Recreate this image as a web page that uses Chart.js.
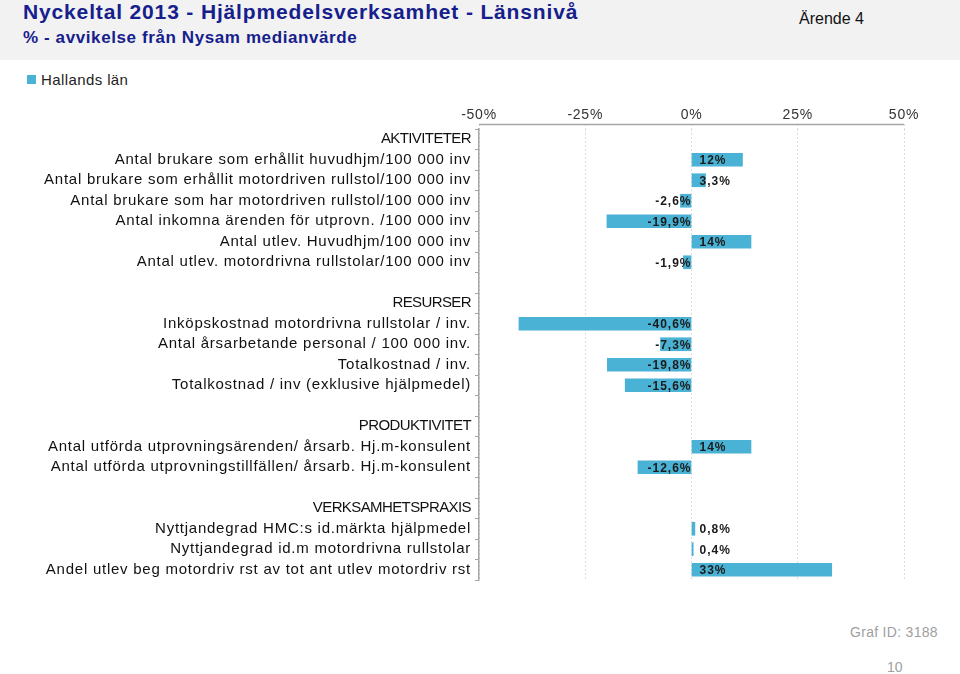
<!DOCTYPE html>
<html>
<head>
<meta charset="utf-8">
<script src="https://cdn.jsdelivr.net/npm/chart.js@4/dist/chart.umd.min.js"></script>
<style>
  body { margin: 0; width: 960px; height: 674px; position: relative; overflow: hidden; background: #fff;
         font-family: "Liberation Sans", Arial, sans-serif; }
  #band { position: absolute; left: 0; top: 0; width: 960px; height: 60px; background: #f2f2f2; }
  .txt { position: absolute; white-space: nowrap; }
  #title { left: 23px; top: 0px; font-size: 21px; font-weight: bold; color: #16208c; letter-spacing: 0.85px; }
  #sub { left: 23px; top: 28px; font-size: 17px; font-weight: bold; color: #16208c; letter-spacing: 0.6px; }
  #arende { left: 799px; top: 10px; font-size: 16px; color: #111; }
  #legbox { position: absolute; left: 27px; top: 75px; width: 9px; height: 9px; background: #4ab2d4; }
  #leg { left: 41px; top: 71px; font-size: 15px; color: #222; letter-spacing: 0.4px; }
  #graf { left: 850px; top: 624px; font-size: 14px; color: #a0a0a0; letter-spacing: 0.3px; }
  #page { left: 887px; top: 659px; font-size: 14px; color: #a0a0a0; }
  canvas { position: absolute; left: 0; top: 0; }
</style>
</head>
<body>
<div id="band"></div>
<div class="txt" id="title">Nyckeltal 2013 - Hjälpmedelsverksamhet - Länsnivå</div>
<div class="txt" id="sub">% - avvikelse från Nysam medianvärde</div>
<div class="txt" id="arende">Ärende 4</div>
<div id="legbox"></div>
<div class="txt" id="leg">Hallands län</div>
<div class="txt" id="graf">Graf ID: 3188</div>
<div class="txt" id="page">10</div>
<canvas id="chart" width="960" height="674"></canvas>
<script>
// kategorier (tomma rader skiljer avsnitten åt)
const kategorier = [
  "AKTIVITETER",
  "Antal brukare som erhållit huvudhjm/100 000 inv",
  "Antal brukare som erhållit motordriven rullstol/100 000 inv",
  "Antal brukare som har motordriven rullstol/100 000 inv",
  "Antal inkomna ärenden för utprovn. /100 000 inv",
  "Antal utlev. Huvudhjm/100 000 inv",
  "Antal utlev. motordrivna rullstolar/100 000 inv",
  "",
  "RESURSER",
  "Inköpskostnad motordrivna rullstolar / inv.",
  "Antal årsarbetande personal / 100 000 inv.",
  "Totalkostnad / inv.",
  "Totalkostnad / inv (exklusive hjälpmedel)",
  "",
  "PRODUKTIVITET",
  "Antal utförda utprovningsärenden/ årsarb. Hj.m-konsulent",
  "Antal utförda utprovningstillfällen/ årsarb. Hj.m-konsulent",
  "",
  "VERKSAMHETSPRAXIS",
  "Nyttjandegrad HMC:s id.märkta hjälpmedel",
  "Nyttjandegrad id.m motordrivna rullstolar",
  "Andel utlev beg motordriv rst av tot ant utlev motordriv rst"
];
const rubriker = ["AKTIVITETER", "RESURSER", "PRODUKTIVITET", "VERKSAMHETSPRAXIS"];

// Hallands län, % avvikelse
const hallandsLan = [
  null, 12, 3.3, -2.6, -19.9, 14, -1.9,
  null, null, -40.6, -7.3, -19.8, -15.6,
  null, null, 14, -12.6,
  null, null, 0.8, 0.4, 33
];
const etiketter = [
  "", "12%", "3,3%", "-2,6%", "-19,9%", "14%", "-1,9%",
  "", "", "-40,6%", "-7,3%", "-19,8%", "-15,6%",
  "", "", "14%", "-12,6%",
  "", "", "0,8%", "0,4%", "33%"
];

const xTicks = [-50, -25, 0, 25, 50];

const fargBar = "#4ab2d4";
const fargAxel = "#a6a6a6";
const typsnitt = "'Liberation Sans', Arial, sans-serif";

const stapelEtiketter = {
  id: "stapelEtiketter",
  beforeDraw(chart) {
    chart.ctx.letterSpacing = "0.75px";
  },
  afterDatasetsDraw(chart) {
    // etiketter på staplarna, förankrade vid nollan
    const ctx = chart.ctx;
    const x0 = chart.scales.x.getPixelForValue(0);
    const meta = chart.getDatasetMeta(0);
    ctx.save();
    ctx.font = "bold 12px " + typsnitt;
    ctx.letterSpacing = "1px";
    ctx.fillStyle = "#1a1a1a";
    ctx.textBaseline = "middle";
    meta.data.forEach((bar, i) => {
      const v = hallandsLan[i];
      if (v === null) return;
      if (v >= 0) {
        ctx.textAlign = "left";
        ctx.fillText(etiketter[i], x0 + 8, bar.y + 1);
      } else {
        ctx.textAlign = "right";
        ctx.fillText(etiketter[i], x0, bar.y + 1);
      }
    });
    ctx.restore();
  },
  afterDraw(chart) {
    const ctx = chart.ctx;
    const a = chart.chartArea;
    const y = chart.scales.y;
    ctx.save();
    // axellinjen överst
    ctx.strokeStyle = fargAxel;
    ctx.lineWidth = 1.5;
    ctx.beginPath();
    ctx.moveTo(a.left, 124.5);
    ctx.lineTo(a.right, 124.5);
    ctx.stroke();
    // avsnittsrubriker, tätare spärrning
    ctx.font = "15px " + typsnitt;
    ctx.letterSpacing = "-0.6px";
    ctx.fillStyle = "#111";
    ctx.textAlign = "right";
    ctx.textBaseline = "middle";
    kategorier.forEach((k, i) => {
      if (rubriker.includes(k)) ctx.fillText(k, y.right - 8, y.getPixelForTick(i));
    });
    ctx.restore();
  }
};

new Chart(document.getElementById("chart"), {
  type: "bar",
  data: {
    labels: kategorier,
    datasets: [{
      label: "Hallands län",
      data: hallandsLan,
      backgroundColor: fargBar,
      barThickness: 13
    }]
  },
  options: {
    indexAxis: "y",
    responsive: false,
    animation: false,
    layout: { padding: { left: 0, right: 56, top: 0, bottom: 94 } },
    plugins: { legend: { display: false }, tooltip: { enabled: false } },
    scales: {
      x: {
        position: "top",
        min: -50,
        max: 50,
        afterFit(scale) { scale.height = 129; },
        afterBuildTicks(scale) { scale.ticks = xTicks.map(v => ({ value: v })); },
        ticks: {
          callback: v => v + "%",
          color: "#333",
          font: { family: typsnitt, size: 14 },
          padding: 0,
          maxRotation: 0
        },
        grid: { color: "#dcdcdc", tickLength: 5, tickBorderDash: [2, 2], tickColor: "#dcdcdc" },
        border: { display: false, dash: [2, 2] }
      },
      y: {
        afterFit(scale) { scale.width = 479; },
        ticks: {
          color: "#111",
          padding: 4,
          autoSkip: false,
          callback: (v, i) => rubriker.includes(kategorier[i]) ? "" : kategorier[i],
          font: { family: typsnitt, size: 15 }
        },
        grid: { drawOnChartArea: false, tickLength: 4, color: fargAxel },
        border: { display: true, color: fargAxel, width: 1.5 }
      }
    }
  },
  plugins: [stapelEtiketter]
});
</script>
</body>
</html>
